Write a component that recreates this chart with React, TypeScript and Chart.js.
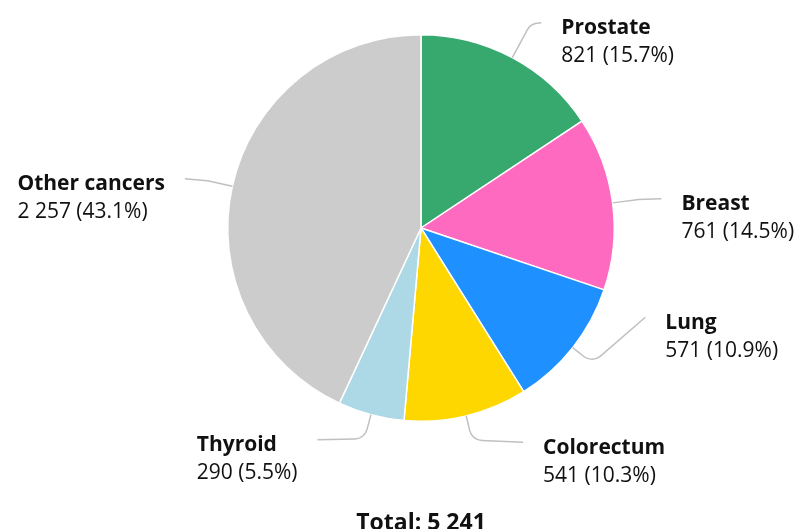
import React, { useEffect, useRef } from "react";
import { Chart, registerables } from "chart.js";

Chart.register(...registerables);

const categories = ["Prostate", "Breast", "Lung", "Colorectum", "Thyroid", "Other cancers"];
const cases = [821, 761, 571, 541, 290, 2257];
const sliceColors = ["#37a96f", "#ff6ac1", "#1e90ff", "#ffd700", "#add8e6", "#cccccc"];

// connector layout (style only): radial length of first segment, offset of label end from elbow
const connectorLayout = [
  { len: 38, dx: 11, dy: -1.5 },
  { len: 25, dx: 24, dy: -1 },
  { len: 25, dx: 53, dy: -46 },
  { len: 25, dx: 51, dy: 2 },
  { len: 25, dx: -47, dy: 1 },
  { len: 25, dx: -23, dy: -2 },
];

const FONT = "'Open Sans', 'Noto Sans', sans-serif";

function fmt(n: number): string {
  return String(n).replace(/\B(?=(\d{3})+(?!\d))/g, " ");
}

const labelPlugin = {
  id: "pieLabels",
  afterDraw(chart: any) {
    const ctx = chart.ctx as CanvasRenderingContext2D;
    const meta = chart.getDatasetMeta(0);
    const data = chart.data.datasets[0].data as number[];
    const total = data.reduce((a, b) => a + b, 0);
    ctx.save();
    meta.data.forEach((arc: any, i: number) => {
      const p = arc.getProps(["x", "y", "startAngle", "endAngle", "outerRadius"], true);
      const mid = (p.startAngle + p.endAngle) / 2;
      const cos = Math.cos(mid);
      const sin = Math.sin(mid);
      const lay = connectorLayout[i];
      const sx = p.x + p.outerRadius * cos;
      const sy = p.y + p.outerRadius * sin;
      const ex = p.x + (p.outerRadius + lay.len) * cos;
      const ey = p.y + (p.outerRadius + lay.len) * sin;
      const tx = ex + lay.dx;
      const ty = ey + lay.dy;
      ctx.beginPath();
      ctx.strokeStyle = "#c0c0c0";
      ctx.lineWidth = 1.5;
      ctx.moveTo(sx, sy);
      ctx.arcTo(ex, ey, tx, ty, 13);
      ctx.lineTo(tx, ty);
      ctx.stroke();

      const name = categories[i];
      const value = `${fmt(data[i])} (${((data[i] / total) * 100).toFixed(1)}%)`;
      ctx.fillStyle = "#111111";
      ctx.textBaseline = "alphabetic";
      ctx.font = `bold 21px ${FONT}`;
      const w1 = ctx.measureText(name).width;
      ctx.font = `21px ${FONT}`;
      const w2 = ctx.measureText(value).width;
      const bw = Math.max(w1, w2);
      const right = lay.dx >= 0;
      const lx = right ? tx + 20 : tx - 20 - bw;
      const by = ty + 11.5;
      ctx.textAlign = "left";
      ctx.font = `bold 21px ${FONT}`;
      ctx.fillText(name, lx, by);
      ctx.font = `21px ${FONT}`;
      ctx.fillText(value, lx, by + 28);
    });
    const c = meta.data[0].getProps(["x"], true);
    ctx.font = `bold 23px ${FONT}`;
    ctx.textAlign = "center";
    ctx.fillStyle = "#111111";
    ctx.fillText(`Total: ${fmt(total)}`, c.x, 530);
    ctx.restore();
  },
};

export default function App() {
  const ref = useRef<HTMLCanvasElement | null>(null);
  useEffect(() => {
    if (!ref.current) return;
    const chart = new Chart(ref.current, {
      type: "pie",
      data: {
        labels: categories,
        datasets: [
          {
            data: cases,
            backgroundColor: sliceColors,
            borderColor: "#ffffff",
            borderWidth: 1.5,
          },
        ],
      },
      options: {
        responsive: false,
        animation: false,
        layout: { padding: { left: 227, right: 182, top: 34, bottom: 107 } },
        plugins: {
          legend: { display: false },
          tooltip: { enabled: false },
          title: { display: false },
        },
      },
      plugins: [labelPlugin],
    });
    return () => chart.destroy();
  }, []);
  return (
    <div style={{ position: "fixed", left: 0, top: 0, width: 797, height: 529, background: "#fff" }}>
      <canvas ref={ref} width={797} height={529} style={{ display: "block" }} />
    </div>
  );
}
